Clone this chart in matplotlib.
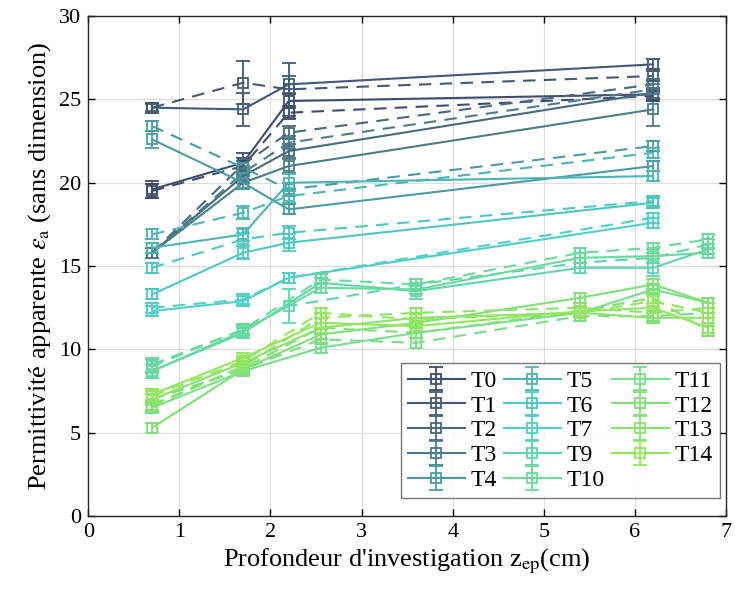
"""Permittivité apparente en fonction de la profondeur d'investigation (T0..T14)."""

import matplotlib

matplotlib.use("Agg")
import matplotlib.pyplot as plt

plt.rcParams["font.family"] = ["Liberation Serif", "DejaVu Serif"]
plt.rcParams["mathtext.fontset"] = "stix"

# Profondeurs d'investigation (cm)
X_A = [0.7, 1.7, 2.2, 6.2]
X_B = [0.7, 1.7, 2.55, 3.6, 5.4, 6.2, 6.8]
X_B2 = [0.7, 1.7, 2.2, 3.6, 5.4, 6.2, 6.8]

labels = ["T0", "T1", "T2", "T3", "T4", "T5", "T6", "T7",
          "T9", "T10", "T11", "T12", "T13", "T14"]
colors = ["#3f4d6c", "#415a75", "#466b7e", "#4a7d8a", "#4a9ca3", "#4bb6b5", "#4dc9c2",
          "#50d1c7", "#5fd6ac", "#6bdb9b", "#77e08a", "#7fe275", "#8ae46c", "#94e85c"]

# solid curves (x, values)
x_solid = [X_A] * 8 + [X_B] * 6
y_solid = [
    [19.6, 21.2, 24.9, 25.3],
    [24.5, 24.4, 25.9, 27.1],
    [15.8, 20.4, 21.9, 25.4],
    [15.8, 20.0, 21.0, 24.4],
    [22.6, 20.0, 18.4, 21.0],
    [16.1, 16.9, 20.0, 20.4],
    [13.3, 15.8, 16.4, 18.8],
    [12.3, 12.9, 14.3, 17.6],
    [8.7, 11.0, 14.0, 13.5, 14.9, 14.9, 16.0],
    [8.7, 11.1, 13.7, 13.6, 15.5, 15.6, 15.8],
    [6.5, 8.7, 10.1, 11.0, 12.2, 13.6, 12.8],
    [5.3, 8.8, 10.9, 11.6, 13.1, 13.9, 12.8],
    [7.0, 9.2, 11.3, 11.9, 12.2, 11.9, 11.9],
    [7.3, 9.5, 11.6, 11.4, 12.3, 12.5, 11.3],
]
e_solid = [
    [0.5, 0.6, 0.4, 0.3],
    [0.3, 1.0, 0.5, 0.3],
    [0.3, 0.4, 0.4, 0.3],
    [0.3, 0.4, 0.4, 1.0],
    [0.5, 0.4, 0.3, 0.3],
    [0.3, 0.4, 0.5, 0.3],
    [0.3, 0.4, 0.5, 0.3],
    [0.3, 0.3, 0.3, 0.3],
    [0.4, 0.3, 0.3, 0.5, 0.3, 0.5, 0.3],
    [0.4, 0.3, 0.3, 0.3, 0.3, 0.4, 0.3],
    [0.3, 0.3, 0.3, 0.3, 0.3, 0.3, 0.3],
    [0.3, 0.3, 0.3, 0.3, 0.3, 0.3, 0.3],
    [0.3, 0.3, 0.3, 0.3, 0.3, 0.3, 0.3],
    [0.3, 0.3, 0.3, 0.3, 0.3, 0.3, 0.3],
]

# dashed curves
x_dash = [X_A] * 8 + [X_B2] + [X_B] * 5
y_dash = [
    [19.5, 21.0, 24.2, 25.2],
    [24.5, 26.0, 25.6, 26.4],
    [15.8, 21.1, 23.0, 25.9],
    [15.8, 20.6, 22.4, 25.6],
    [23.4, 20.9, 19.6, 22.2],
    [16.9, 18.2, 19.2, 21.8],
    [14.9, 16.6, 17.0, 18.9],
    [12.5, 13.0, 14.3, 17.9],
    [9.0, 11.2, 12.6, 13.9, 15.2, 15.5, 16.3],
    [9.1, 11.2, 14.2, 13.9, 15.8, 16.1, 16.6],
    [7.0, 8.8, 10.6, 10.4, 12.0, 12.0, 12.2],
    [6.7, 8.9, 11.3, 11.0, 12.3, 13.1, 11.1],
    [6.6, 9.0, 11.9, 12.2, 12.5, 12.2, 12.5],
    [7.2, 9.3, 12.2, 11.8, 12.2, 12.9, 12.2],
]
e_dash = [
    [0.4, 0.5, 0.4, 0.3],
    [0.2, 1.3, 1.6, 0.3],
    [0.3, 0.4, 0.4, 0.3],
    [0.3, 0.4, 0.4, 0.3],
    [0.3, 0.4, 0.4, 0.3],
    [0.3, 0.4, 0.4, 0.3],
    [0.3, 0.4, 0.4, 0.3],
    [0.3, 0.3, 0.3, 0.3],
    [0.4, 0.3, 1.0, 0.3, 0.3, 0.3, 0.3],
    [0.4, 0.3, 0.3, 0.3, 0.3, 0.3, 0.3],
    [0.3, 0.3, 0.3, 0.3, 0.3, 0.3, 0.3],
    [0.3, 0.3, 0.3, 0.3, 0.3, 0.3, 0.3],
    [0.3, 0.3, 0.3, 0.3, 0.3, 0.3, 0.3],
    [0.3, 0.3, 0.3, 0.3, 0.3, 0.3, 0.3],
]

fig = plt.figure(figsize=(7.35, 5.92), dpi=100)
ax = fig.add_axes([0.12, 0.128, 0.868, 0.845])

handles = []
for i, lab in enumerate(labels):
    c = colors[i]
    h = ax.errorbar(x_solid[i], y_solid[i], yerr=e_solid[i], fmt="s", ls="-", color=c,
                    mfc="none", mec=c, ms=6.5, mew=1.3, lw=1.5, capsize=5, elinewidth=1.3,
                    capthick=1.3, label=lab)
    handles.append(h)
    ax.errorbar(x_dash[i], y_dash[i], yerr=e_dash[i], fmt="s", ls=(0, (6, 4)), color=c,
                mfc="none", mec=c, ms=6.5, mew=1.3, lw=1.5, capsize=5, elinewidth=1.3,
                capthick=1.3)

ax.set_xlim(0, 7)
ax.set_ylim(0, 30)
ax.set_xticks(range(0, 8))
ax.set_yticks(range(0, 31, 5))
ax.tick_params(direction="in", top=True, right=True, labelsize=16, length=5, width=1, pad=5)
ax.grid(True, color="#dedede", lw=0.8)
ax.set_axisbelow(True)
for sp in ax.spines.values():
    sp.set_color("#262626")
    sp.set_linewidth(1.0)

ax.set_xlabel(r"Profondeur d'investigation z$_{\mathrm{ep}}$(cm)", fontsize=19, labelpad=3)
ax.set_ylabel(r"Permittivité apparente $\epsilon_{\mathrm{a}}$ (sans dimension)", fontsize=19,
              labelpad=4)

leg = ax.legend(handles=handles, ncol=3, loc="lower right", bbox_to_anchor=(0.99, 0.036),
                borderaxespad=0, fontsize=17, frameon=True, fancybox=False,
                edgecolor="#555555", handlelength=2.4, columnspacing=0.3,
                handletextpad=0.25, labelspacing=0.14, borderpad=0.3)
leg.get_frame().set_linewidth(1.0)

fig.savefig("out.png", dpi=100)
